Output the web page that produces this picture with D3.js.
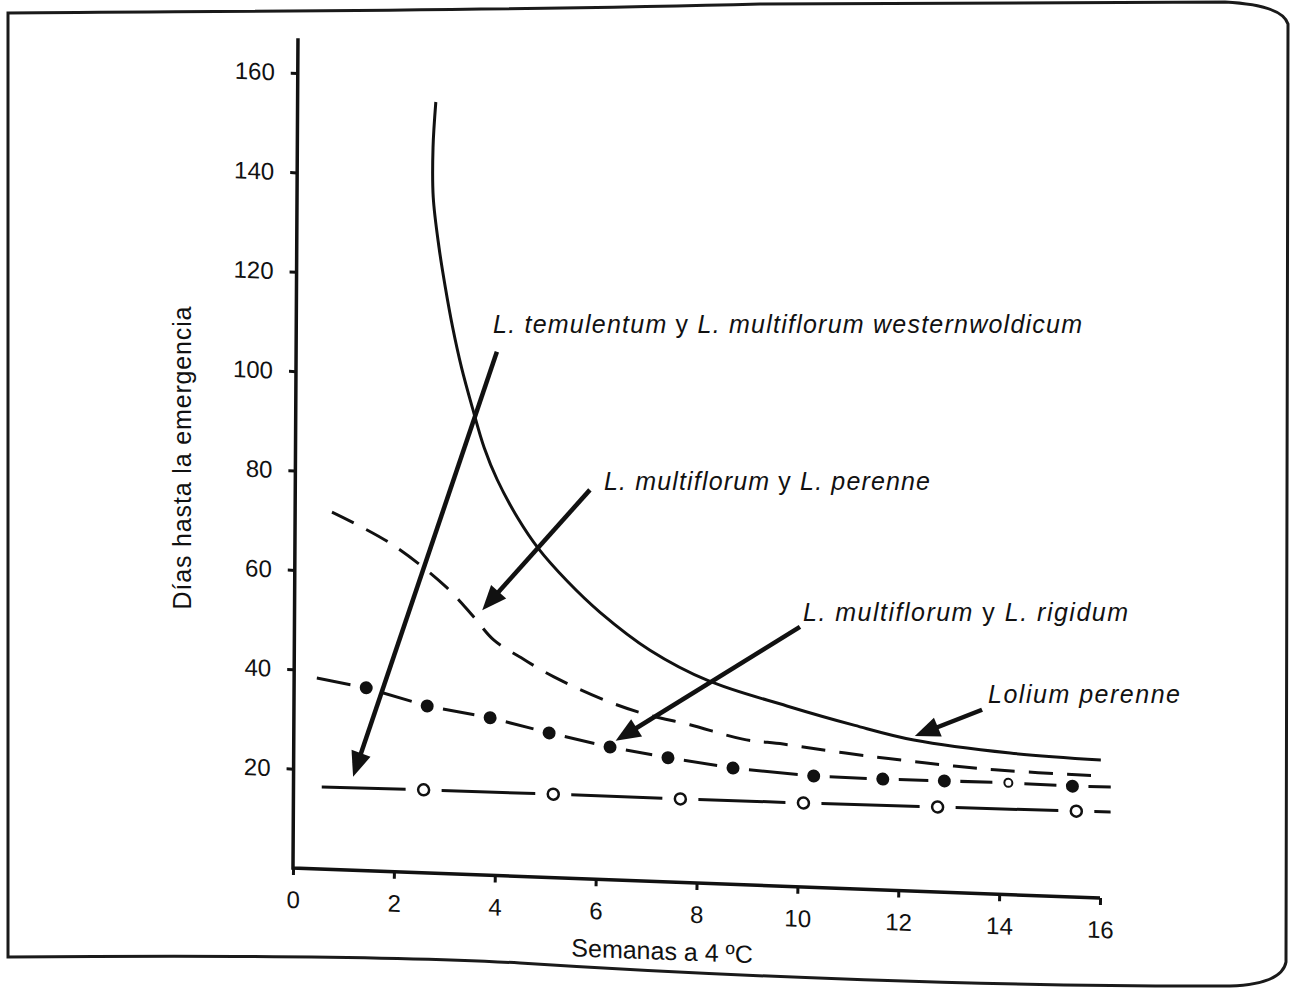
<!DOCTYPE html>
<html>
<head>
<meta charset="utf-8">
<title>Días hasta la emergencia</title>
<style>
  body { margin: 0; background: #fff; }
  svg { display: block; font-family: "Liberation Sans", Arial, Helvetica, sans-serif; }
  .axis text { font-size: 24px; fill: #111; }
  .axis line { stroke: #111; stroke-width: 3; }
  .note { font-size: 25px; font-style: italic; fill: #111; }
  .note .plain { font-style: normal; }
</style>
</head>
<body>
<svg></svg>
<script src="https://d3js.org/d3.v7.min.js"></script>
<script>
// Lolium perenne (línea continua)
const loliumX = [2.74, 2.69, 2.70, 2.82, 2.95, 3.10, 3.28, 3.50, 3.74, 4.0, 4.42, 4.82, 5.4, 6.05, 7.05, 8.22, 9.77, 11.12, 12.29, 14.2, 16.0];
const loliumY = [155.2, 146, 136, 126, 118, 110, 102, 94, 86, 79.7, 72, 66.2, 59.8, 53.8, 46.5, 40.75, 36.3, 32.9, 30.4, 28.5, 27.8];

// L. multiflorum y L. perenne (discontinua)
const perenneX = [0.73, 1.9, 3.0, 3.55, 3.95, 4.5, 5.15, 6.3, 7.05, 7.85, 8.9, 9.7, 10.9, 12.5, 13.9, 15.9];
const perenneY = [71.9, 66.0, 57.7, 51.9, 47.4, 44.0, 40.4, 35.6, 33.4, 31.8, 29.3, 28.6, 27.3, 25.9, 25.0, 24.6];

// L. multiflorum y L. rigidum (trazo y punto); primero y último son extremos, el resto lleva punto
const rigidumX = [0.45, 1.43, 2.64, 3.89, 5.06, 6.27, 7.42, 8.71, 10.31, 11.68, 12.9, 14.17, 15.44, 16.2];
const rigidumY = [38.4, 36.8, 33.6, 31.7, 29.1, 26.7, 25.0, 23.4, 22.4, 22.3, 22.4, 22.5, 22.3, 22.4];

// L. temulentum y L. multiflorum westernwoldicum (trazo y círculo)
const temulentumX = [0.56, 2.58, 5.15, 7.67, 10.11, 12.77, 15.52, 16.2];
const temulentumY = [16.5, 16.7, 16.8, 16.8, 16.9, 17.1, 17.3, 17.4];

const xTicks = [0, 2, 4, 6, 8, 10, 12, 14, 16];
const yTicks = [20, 40, 60, 80, 100, 120, 140, 160];

const width = 1293, height = 990;

const svg = d3.select("svg")
    .attr("width", width)
    .attr("height", height);

// recuadro de la figura
svg.append("path")
    .attr("d", "M8,957 L8,13 C250,11 500,11 760,4 L1225,2 Q1282,5 1288,24 L1286,962 Q1282,984 1230,986 C1000,987 720,976 520,963 C360,954 120,956 8,957 Z")
    .attr("fill", "none")
    .attr("stroke", "#1a1a1a")
    .attr("stroke-width", 3);

// la página está algo torcida: el eje x baja hacia la derecha y el eje y se inclina un poco
const origin = [293, 868], skewX = -0.006, skewY = 0.0372;

const x = d3.scaleLinear().domain([0, 16]).range([0, 807]);
const y = d3.scaleLinear().domain([0, 160]).range([0, -795]);

const g = svg.append("g")
    .attr("transform", `matrix(1,${skewY},${skewX},1,${origin[0]},${origin[1]})`);

const xAxis = d3.axisBottom(x).tickValues(xTicks).tickSize(7).tickPadding(16).tickSizeOuter(0);
const yAxis = d3.axisLeft(y).tickValues(yTicks).tickSize(7).tickPadding(16).tickSizeOuter(0);

g.append("g").attr("class", "axis").call(xAxis).call(a => a.select(".domain").remove());
g.append("g").attr("class", "axis").call(yAxis).call(a => a.select(".domain").remove());
g.selectAll(".axis text").attr("font-family", null).attr("font-size", null);

// ejes en L, el vertical sube un poco más allá de 160
g.append("path")
    .attr("d", `M${x(16)},${y(0)}H${x(0)}V${y(167)}`)
    .attr("fill", "none")
    .attr("stroke", "#111")
    .attr("stroke-width", 3.5);

g.append("text")
    .attr("x", x(8) - 34)
    .attr("y", 78)
    .attr("text-anchor", "middle")
    .attr("font-size", 25)
    .attr("fill", "#111")
    .text("Semanas a 4 ºC");

svg.append("text")
    .attr("transform", "translate(191,458) rotate(-90)")
    .attr("text-anchor", "middle")
    .attr("font-size", 25)
    .attr("fill", "#111")
    .attr("textLength", 303)
    .attr("lengthAdjust", "spacing")
    .text("Días hasta la emergencia");

const line = d3.line()
    .x(d => x(d[0]))
    .y(d => y(d[1]))
    .curve(d3.curveCatmullRom);

g.append("path")
    .datum(d3.zip(loliumX, loliumY))
    .attr("d", line)
    .attr("fill", "none")
    .attr("stroke", "#111")
    .attr("stroke-width", 3);

g.append("path")
    .datum(d3.zip(perenneX, perenneY))
    .attr("d", line)
    .attr("fill", "none")
    .attr("stroke", "#111")
    .attr("stroke-width", 3)
    .attr("stroke-dasharray", "24,14");

// trozos de línea entre marcas, dejando hueco alrededor de cada marca
function pieces(xs, ys, gap) {
    const p = xs.map((v, i) => [x(v), y(ys[i])]);
    const out = [];
    for (let i = 0; i < p.length - 1; i++) {
        const a = p[i], b = p[i + 1];
        const dx = b[0] - a[0], dy = b[1] - a[1], len = Math.hypot(dx, dy);
        const ta = i === 0 ? 0 : gap / len;
        const tb = i + 1 === p.length - 1 ? 1 : 1 - gap / len;
        out.push([a[0] + dx * ta, a[1] + dy * ta, a[0] + dx * tb, a[1] + dy * tb]);
    }
    return out;
}

function dashes(xs, ys, gap) {
    g.append("g").selectAll("line")
        .data(pieces(xs, ys, gap))
        .join("line")
        .attr("x1", d => d[0]).attr("y1", d => d[1])
        .attr("x2", d => d[2]).attr("y2", d => d[3])
        .attr("stroke", "#111")
        .attr("stroke-width", 3);
}

dashes(rigidumX, rigidumY, 16);
dashes(temulentumX, temulentumY, 18);

const rigidumDots = d3.zip(rigidumX, rigidumY).slice(1, -1);
g.append("g").selectAll("circle")
    .data(rigidumDots)
    .join("circle")
    .attr("cx", d => x(d[0]))
    .attr("cy", d => y(d[1]))
    .attr("r", (d, i) => i === 10 ? 4 : 5.5)
    .attr("fill", (d, i) => i === 10 ? "#fff" : "#111")
    .attr("stroke", "#111")
    .attr("stroke-width", 2);

const temulentumDots = d3.zip(temulentumX, temulentumY).slice(1, -1);
g.append("g").selectAll("circle")
    .data(temulentumDots)
    .join("circle")
    .attr("cx", d => x(d[0]))
    .attr("cy", d => y(d[1]))
    .attr("r", 5.5)
    .attr("fill", "#fff")
    .attr("stroke", "#111")
    .attr("stroke-width", 2.5);

// flechas de las leyendas: punta y cola en unidades del gráfico
const notes = [
    { parts: [["L. temulentum", 1], [" y ", 0], ["L. multiflorum westernwoldicum", 1]], tip: [1.18, 18.8], tail: [3.98, 105.4], at: [493, 333], len: 589 },
    { parts: [["L. multiflorum", 1], [" y ", 0], ["L. perenne", 1]], tip: [3.72, 53.3], tail: [5.84, 78.3], at: [604, 490], len: 326 },
    { parts: [["L. multiflorum", 1], [" y ", 0], ["L. rigidum", 1]], tip: [6.38, 28.0], tail: [10.02, 52.3], at: [803, 621], len: 325 },
    { parts: [["Lolium perenne", 1]], tip: [12.31, 31.2], tail: [13.64, 37.0], at: [988, 703], len: 192 }
];

const headLen = 25, headHalf = 10;
notes.forEach(n => {
    const t = [x(n.tip[0]), y(n.tip[1])];
    const s = [x(n.tail[0]), y(n.tail[1])];
    const len = Math.hypot(t[0] - s[0], t[1] - s[1]);
    const ux = (t[0] - s[0]) / len, uy = (t[1] - s[1]) / len;
    const bx = t[0] - ux * headLen, by = t[1] - uy * headLen;
    g.append("line")
        .attr("x1", s[0]).attr("y1", s[1])
        .attr("x2", bx + ux * 4).attr("y2", by + uy * 4)
        .attr("stroke", "#111")
        .attr("stroke-width", 4.5);
    g.append("path")
        .attr("d", `M${t[0]},${t[1]}L${bx - uy * headHalf},${by + ux * headHalf}L${bx + uy * headHalf},${by - ux * headHalf}Z`)
        .attr("fill", "#111");

    const txt = svg.append("text")
        .attr("class", "note")
        .attr("x", n.at[0])
        .attr("y", n.at[1])
        .attr("textLength", n.len)
        .attr("lengthAdjust", "spacing");
    n.parts.forEach(p => {
        txt.append("tspan").attr("class", p[1] ? null : "plain").text(p[0]);
    });
});
</script>
</body>
</html>
